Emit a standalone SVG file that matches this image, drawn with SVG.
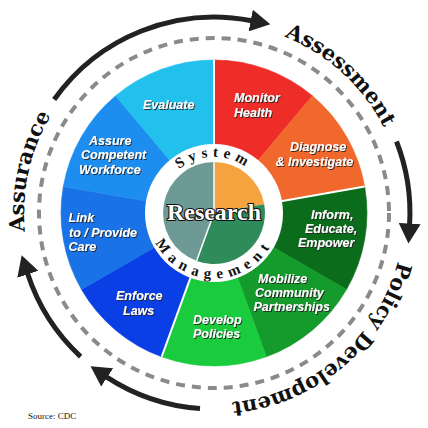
<svg xmlns="http://www.w3.org/2000/svg" width="428" height="428" viewBox="0 0 428 428">
<style>
.lbl{font-family:"Liberation Sans",Arial,sans-serif;font-weight:bold;font-style:italic;font-size:12.5px;fill:#fff;filter:url(#sh)}
.outer{font-family:"DejaVu Serif","Liberation Serif",serif;font-weight:bold;font-size:21px;fill:#111}
.ring{font-family:"Liberation Serif",serif;font-weight:bold;font-size:15px;fill:#111}
.sep{stroke:#fff;stroke-width:2}
.arrow{fill:none;stroke:#222;stroke-width:5;marker-end:url(#ah)}
</style>
<defs>
<filter id="sh" x="-10%" y="-20%" width="130%" height="150%">
<feDropShadow dx="1" dy="1" stdDeviation="0.4" flood-color="#222" flood-opacity="0.9"/>
</filter>
<marker id="ah" markerUnits="userSpaceOnUse" markerWidth="20" markerHeight="22" viewBox="0 0 20 22" refX="1" refY="11" orient="auto">
<path d="M0,0 L20,11 L0,22 Z" fill="#222"/>
</marker>
<path id="sysPath" d="M158,213 A56,56 0 0 1 270,213"/>
<path id="mgmtPath" d="M148.5,213 A65.5,65.5 0 0 0 279.5,213"/>
<path id="outerPath" d="M214,23 A190,190 0 0 1 214,403 A190,190 0 0 1 214,23"/>
</defs>
<rect width="428" height="428" fill="#fff"/>

<circle cx="214" cy="213" r="175" fill="none" stroke="#8a8a8a" stroke-width="4" stroke-dasharray="9 7"/>

<g id="node-monitor">
<path d="M214,213 L214,60 A153,153 0 0 1 312.35,95.8 Z" fill="#ee2c28" stroke="#ee2c28" stroke-width="0.6"/>
<text class="lbl"><tspan x="234" y="102.3">Monitor</tspan><tspan x="234" y="116.7">Health</tspan></text>
</g>
<g id="node-diagnose">
<path d="M214,213 L312.35,95.8 A153,153 0 0 1 364.67,186.44 Z" fill="#f0682b" stroke="#f0682b" stroke-width="0.6"/>
<text class="lbl"><tspan x="290" y="151.3">Diagnose</tspan><tspan x="275.5" y="165.7">&amp; Investigate</tspan></text>
</g>
<g id="node-inform">
<path d="M214,213 L364.67,186.44 A153,153 0 0 1 346.5,289.5 Z" fill="#0b6d1b" stroke="#0b6d1b" stroke-width="0.6"/>
<text class="lbl"><tspan x="311" y="218.6">Inform,</tspan><tspan x="305" y="233">Educate,</tspan><tspan x="298" y="247.4">Empower</tspan></text>
</g>
<g id="node-mobilize">
<path d="M214,213 L346.5,289.5 A153,153 0 0 1 266.33,356.77 Z" fill="#159a2c" stroke="#159a2c" stroke-width="0.6"/>
<text class="lbl"><tspan x="258" y="282.6">Mobilize</tspan><tspan x="255" y="297">Community</tspan><tspan x="253.5" y="311.4">Partnerships</tspan></text>
</g>
<g id="node-develop">
<path d="M214,213 L266.33,356.77 A153,153 0 0 1 161.67,356.77 Z" fill="#1acb3d" stroke="#1acb3d" stroke-width="0.6"/>
<text class="lbl"><tspan x="193" y="324">Develop</tspan><tspan x="193" y="338.4">Policies</tspan></text>
</g>
<g id="node-enforce">
<path d="M214,213 L161.67,356.77 A153,153 0 0 1 81.5,289.5 Z" fill="#0b3fe6" stroke="#0b3fe6" stroke-width="0.6"/>
<text class="lbl"><tspan x="116" y="300.3">Enforce</tspan><tspan x="123" y="314.7">Laws</tspan></text>
</g>
<g id="node-link">
<path d="M214,213 L81.5,289.5 A153,153 0 0 1 63.33,186.44 Z" fill="#1972e6" stroke="#1972e6" stroke-width="0.6"/>
<text class="lbl"><tspan x="68.5" y="222.4">Link</tspan><tspan x="69" y="236.8">to / Provide</tspan><tspan x="68.5" y="251.2">Care</tspan></text>
</g>
<g id="node-assure">
<path d="M214,213 L63.33,186.44 A153,153 0 0 1 115.65,95.8 Z" fill="#1d8eef" stroke="#1d8eef" stroke-width="0.6"/>
<text class="lbl"><tspan x="89" y="144.8">Assure</tspan><tspan x="81" y="159.2">Competent</tspan><tspan x="79" y="173.6">Workforce</tspan></text>
</g>
<g id="node-evaluate">
<path d="M214,213 L115.65,95.8 A153,153 0 0 1 214,60 Z" fill="#22c0ec" stroke="#22c0ec" stroke-width="0.6"/>
<text class="lbl" x="143" y="109">Evaluate</text>
</g>

<line class="sep" x1="214" y1="60" x2="214" y2="146"/>
<line class="sep" x1="280.97" y1="201.2" x2="364.67" y2="186.44"/>
<line class="sep" x1="190.74" y1="276.9" x2="161.67" y2="356.77"/>

<g id="node-core">
<circle cx="214" cy="213" r="69" fill="#fff"/>
<path d="M214,213 L214,162 A51,51 0 0 1 264.22,204.15 Z" fill="#f5a33f"/>
<path d="M214,213 L264.22,204.15 A51,51 0 0 1 196.56,260.92 Z" fill="#2f8c5a"/>
<path d="M214,213 L196.56,260.92 A51,51 0 0 1 214,162 Z" fill="#6e9a96"/>
<line x1="214" y1="213" x2="214" y2="162" stroke="#fff" stroke-width="1.5"/>
<line x1="214" y1="213" x2="196.56" y2="260.92" stroke="#fff" stroke-width="1.5"/>
<text x="214" y="220" text-anchor="middle" font-family="Liberation Serif,serif" font-weight="bold" font-size="24" fill="#fff" stroke="#111" stroke-width="2.2" paint-order="stroke" stroke-linejoin="round">Research</text>
<text class="ring" letter-spacing="5"><textPath href="#sysPath" startOffset="50%" text-anchor="middle">System</textPath></text>
<text class="ring" letter-spacing="6"><textPath href="#mgmtPath" startOffset="50%" text-anchor="middle">Management</textPath></text>
</g>

<g id="connectors">
<path class="arrow" d="M54.2,99.5 A196,196 0 0 1 251.7,20.7"/>
<path class="arrow" d="M396.5,141.5 A196,196 0 0 1 409.6,224.6"/>
<path class="arrow" d="M200,408.5 A196,196 0 0 1 106.4,376.8"/>
<path class="arrow" d="M80.6,356.6 A196,196 0 0 1 27.5,273.3"/>
</g>

<g id="node-assessment">
<text class="outer"><textPath href="#outerPath" startOffset="141" text-anchor="middle">Assessment</textPath></text>
</g>
<g id="node-policy">
<text class="outer"><textPath href="#outerPath" startOffset="463" text-anchor="middle">Policy Development</textPath></text>
</g>
<g id="node-assurance">
<text class="outer"><textPath href="#outerPath" startOffset="937" text-anchor="middle">Assurance</textPath></text>
</g>

<text x="28" y="419" font-family="Liberation Serif,serif" font-size="9" fill="#111">Source: CDC</text>
</svg>
